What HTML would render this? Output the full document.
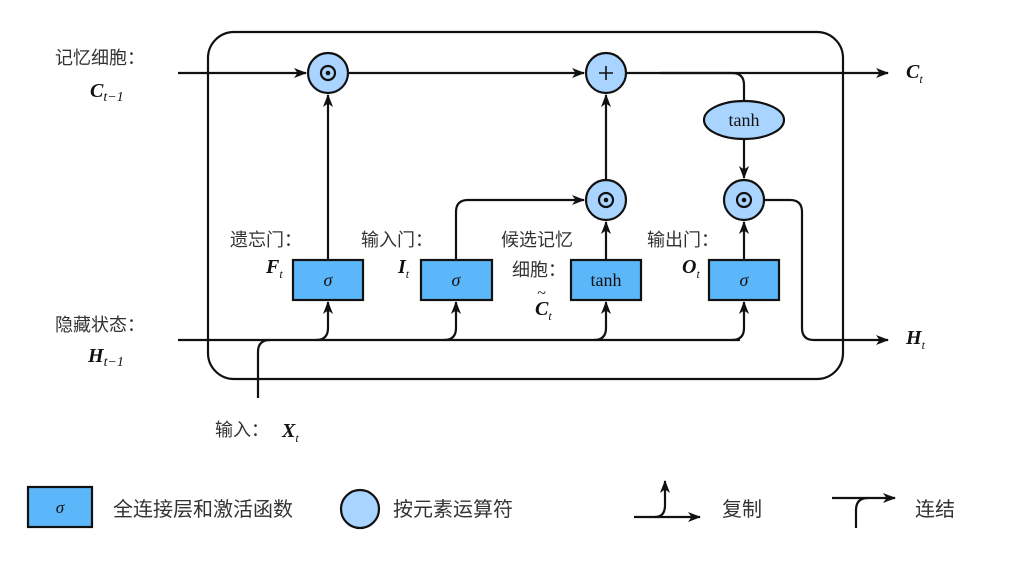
<!DOCTYPE html>
<html><head><meta charset="utf-8"><style>
body{margin:0;background:#fff}
svg text{font-family:"Liberation Sans","Noto Sans CJK SC",sans-serif;fill:#333}
.m{font-family:"Liberation Serif",serif;font-style:italic;font-weight:bold;fill:#111}
.s{font-family:"Liberation Serif",serif;font-style:italic;fill:#111}
.t{font-family:"Liberation Serif",serif;fill:#111}
</style></head><body>
<svg width="1019" height="559" viewBox="0 0 1019 559" xmlns="http://www.w3.org/2000/svg">
<defs><marker id="a" markerWidth="13" markerHeight="10" refX="12" refY="5" orient="auto" markerUnits="userSpaceOnUse"><path d="M0,0 L13,5 L0,10 L3.5,5z" fill="#111"/></marker></defs>
<g fill="none" stroke="#111" stroke-width="2.2">
<rect x="208" y="32" width="635" height="347" rx="26"/>
<path d="M178 73 H306" marker-end="url(#a)"/>
<path d="M348 73 H584" marker-end="url(#a)"/>
<path d="M626 73 H888" marker-end="url(#a)"/>
<path d="M660 73 H732 Q744 73 744 85 V101"/>
<path d="M744 139 V178" marker-end="url(#a)"/>
<path d="M178 340 H740"/>
<path d="M258 398 V352 Q258 340 270 340"/>
<path d="M316 340 Q328 340 328 328 V302" marker-end="url(#a)"/>
<path d="M444 340 Q456 340 456 328 V302" marker-end="url(#a)"/>
<path d="M594 340 Q606 340 606 328 V302" marker-end="url(#a)"/>
<path d="M732 340 Q744 340 744 328 V302" marker-end="url(#a)"/>
<path d="M328 260 V95" marker-end="url(#a)"/>
<path d="M456 260 V212 Q456 200 468 200 H584" marker-end="url(#a)"/>
<path d="M606 260 V222" marker-end="url(#a)"/>
<path d="M606 180 V95" marker-end="url(#a)"/>
<path d="M744 260 V222" marker-end="url(#a)"/>
<path d="M765 200 H790 Q802 200 802 212 V328 Q802 340 814 340 H888" marker-end="url(#a)"/>
</g>
<g stroke="#111" stroke-width="2.2" fill="#a9d4ff">
<circle cx="328" cy="73" r="20"/><circle cx="606" cy="73" r="20"/>
<circle cx="606" cy="200" r="20"/><circle cx="744" cy="200" r="20"/>
<ellipse cx="744" cy="120" rx="40" ry="19"/>
</g>
<g stroke="#111" stroke-width="2.2" fill="none">
<circle cx="328" cy="73" r="7"/><circle cx="606" cy="200" r="7"/><circle cx="744" cy="200" r="7"/>
<path d="M599 73 H613 M606 66 V80" stroke-width="1.6"/>
</g>
<g fill="#111"><circle cx="328" cy="73" r="2.3"/><circle cx="606" cy="200" r="2.3"/><circle cx="744" cy="200" r="2.3"/></g>
<g stroke="#111" stroke-width="2.2" fill="#5cb6fa">
<rect x="293" y="260" width="70" height="40"/><rect x="421" y="260" width="71" height="40"/>
<rect x="571" y="260" width="70" height="40"/><rect x="709" y="260" width="70" height="40"/>
<rect x="28" y="487" width="64" height="40"/>
</g>
<g text-anchor="middle">
<text class="s" x="328" y="286" font-size="18">σ</text>
<text class="s" x="456" y="286" font-size="18">σ</text>
<text class="t" x="606" y="286" font-size="18">tanh</text>
<text class="s" x="744" y="286" font-size="18">σ</text>
<text class="t" x="744" y="126" font-size="18">tanh</text>
<text class="s" x="60" y="513" font-size="17">σ</text>
</g>
<g font-size="18">
<text x="55" y="64">记忆细胞：</text>
<text x="55" y="331">隐藏状态：</text>
<text x="230" y="246">遗忘门：</text>
<text x="361" y="246">输入门：</text>
<text x="501" y="246">候选记忆</text>
<text x="512" y="276">细胞：</text>
<text x="647" y="246">输出门：</text>
<text x="215" y="436">输入：</text>
</g>
<g font-size="20">
<text class="m" x="90" y="97">C<tspan class="s" font-weight="normal" font-size="14" dy="4">t−1</tspan></text>
<text class="m" x="88" y="362">H<tspan class="s" font-weight="normal" font-size="14" dy="4">t−1</tspan></text>
<text class="m" x="266" y="273">F<tspan class="s" font-weight="normal" font-size="12" dy="5">t</tspan></text>
<text class="m" x="398" y="273">I<tspan class="s" font-weight="normal" font-size="12" dy="5">t</tspan></text>
<text class="m" x="535" y="315">C<tspan class="s" font-weight="normal" font-size="12" dy="5">t</tspan></text>
<text class="s" x="537" y="298" font-size="16">~</text>
<text class="m" x="682" y="273">O<tspan class="s" font-weight="normal" font-size="12" dy="5">t</tspan></text>
<text class="m" x="906" y="78">C<tspan class="s" font-weight="normal" font-size="12" dy="5">t</tspan></text>
<text class="m" x="906" y="344">H<tspan class="s" font-weight="normal" font-size="12" dy="5">t</tspan></text>
<text class="m" x="282" y="437">X<tspan class="s" font-weight="normal" font-size="12" dy="5">t</tspan></text>
</g>
<circle cx="360" cy="509" r="19" fill="#a9d4ff" stroke="#111" stroke-width="2.2"/>
<g fill="none" stroke="#111" stroke-width="2.2">
<path d="M634 517 H700" marker-end="url(#a)"/>
<path d="M655 517 Q665 517 665 505 V481" marker-end="url(#a)"/>
<path d="M832 498 H895" marker-end="url(#a)"/>
<path d="M856 528 V510 Q856 498 868 498"/>
</g>
<g font-size="20">
<text x="113" y="516">全连接层和激活函数</text>
<text x="393" y="516">按元素运算符</text>
<text x="722" y="516">复制</text>
<text x="915" y="516">连结</text>
</g>
</svg>
</body></html>
